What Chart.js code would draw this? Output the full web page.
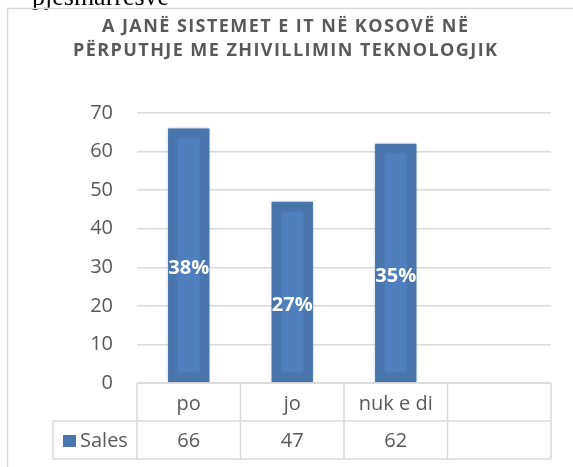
<!DOCTYPE html>
<html>
<head>
<meta charset="utf-8">
<title>A janë sistemet e IT në Kosovë</title>
<style>
  html, body { margin: 0; padding: 0; background: #fff; }
  #wrap { position: relative; width: 573px; height: 467px; overflow: hidden; }
</style>
<script src="https://cdn.jsdelivr.net/npm/chart.js"></script>
</head>
<body>
<div id="wrap">
  <canvas id="myChart" width="573" height="467"></canvas>
</div>
<script>
// chart data
var categories = ['po', 'jo', 'nuk e di', ''];
var sales = [66, 47, 62, null];
var seriesName = 'Sales';
var titleLines = ['A JANË SISTEMET E IT NË KOSOVË NË', 'PËRPUTHJE ME ZHIVILLIMIN TEKNOLOGJIK'];
var pageText = 'pjesmarresve';

var total = sales.reduce(function (a, b) { return a + (b || 0); }, 0);
var percentLabels = sales.map(function (v) {
  return v == null ? '' : Math.round(v / total * 100) + '%';
});

var grey = '#595959';
var lineGrey = '#d9d9d9';
var barOuter = '#4a75ac';
var barInner = '#4f80bd';
var FONT = '"Open Sans", "Noto Sans", sans-serif';

// page frame, bit of page text and the title
var framePlugin = {
  id: 'frame',
  beforeDraw: function (chart) {
    var ctx = chart.ctx;
    ctx.save();
    ctx.fillStyle = '#000';
    ctx.font = '26px "Liberation Serif", serif';
    ctx.textBaseline = 'alphabetic';
    ctx.fillText(pageText, 32, 5);

    ctx.strokeStyle = lineGrey;
    ctx.lineWidth = 1.5;
    ctx.beginPath();
    ctx.moveTo(7.5, 600);
    ctx.lineTo(7.5, 8.5);
    ctx.lineTo(700, 8.5);
    ctx.stroke();

    ctx.fillStyle = grey;
    ctx.font = 'bold 18px ' + FONT;
    ctx.textAlign = 'left';
    var targetW = 366;
    var w0 = ctx.measureText(titleLines[0]).width;
    var sp = Math.max(0, (targetW - w0) / (titleLines[0].length - 1));
    ctx.letterSpacing = sp + 'px';
    var cx = 285;
    var baselines = [32, 56];
    titleLines.forEach(function (t, i) {
      var w = ctx.measureText(t).width - sp;
      ctx.fillText(t, cx - w / 2, baselines[i]);
    });
    ctx.restore();
  },
  // soft halo round the bars
  beforeDatasetsDraw: function (chart) {
    var ctx = chart.ctx;
    ctx.save();
    ctx.shadowColor = 'rgba(110,150,205,0.7)';
    ctx.shadowBlur = 3;
  },
  afterDatasetsDraw: function (chart) {
    var ctx = chart.ctx;
    ctx.restore();
    // lighter inner part of each bar (bevel look)
    var meta = chart.getDatasetMeta(0);
    ctx.save();
    ctx.fillStyle = barInner;
    ctx.shadowColor = barInner;
    ctx.shadowBlur = 5;
    meta.data.forEach(function (bar, i) {
      if (sales[i] == null) return;
      var p = bar.getProps(['x', 'y', 'base', 'width'], true);
      var inset = 10;
      ctx.fillRect(p.x - p.width / 2 + inset, p.y + inset, p.width - 2 * inset, p.base - p.y - 2 * inset);
    });
    ctx.restore();
  }
};

// data table under the plot + value labels on bars
var tablePlugin = {
  id: 'dataTable',
  afterDraw: function (chart) {
    var ctx = chart.ctx;
    var area = chart.chartArea;
    var xs = chart.scales.x;
    var n = categories.length;
    var colW = (area.right - area.left) / n;
    var top = area.bottom;
    var rowH = 38;
    var legendLeft = 53;

    ctx.save();
    ctx.strokeStyle = lineGrey;
    ctx.lineWidth = 1.5;
    ctx.beginPath();
    // horizontal lines
    ctx.moveTo(area.left, top); ctx.lineTo(area.right, top);
    ctx.moveTo(legendLeft, top + rowH); ctx.lineTo(area.right, top + rowH);
    ctx.moveTo(legendLeft, top + 2 * rowH); ctx.lineTo(area.right, top + 2 * rowH);
    // vertical lines
    for (var i = 0; i <= n; i++) {
      var x = area.left + i * colW;
      ctx.moveTo(x, top); ctx.lineTo(x, top + 2 * rowH);
    }
    ctx.moveTo(legendLeft, top + rowH); ctx.lineTo(legendLeft, top + 2 * rowH);
    ctx.stroke();

    ctx.fillStyle = grey;
    ctx.font = '20px ' + FONT;
    ctx.textAlign = 'center';
    ctx.textBaseline = 'middle';
    categories.forEach(function (c, i) {
      var x = xs.getPixelForValue(i);
      ctx.fillText(c, x, top + rowH / 2 + 2);
      if (sales[i] != null) ctx.fillText(String(sales[i]), x, top + rowH * 1.5 + 1);
    });

    // legend key
    ctx.fillStyle = '#4a76b0';
    ctx.fillRect(63, top + 52, 13, 12);
    ctx.fillStyle = grey;
    ctx.textAlign = 'left';
    ctx.fillText(seriesName, 80, top + rowH * 1.5 + 1);

    // percent labels
    var meta = chart.getDatasetMeta(0);
    ctx.fillStyle = '#fff';
    ctx.font = 'bold 20px ' + FONT;
    ctx.textAlign = 'center';
    meta.data.forEach(function (bar, i) {
      if (sales[i] == null) return;
      var p = bar.getProps(['x', 'y', 'base'], true);
      ctx.fillText(percentLabels[i], p.x, (p.y + p.base) / 2 + 13);
    });
    ctx.restore();
  }
};

var ctx = document.getElementById('myChart').getContext('2d');
var chart = new Chart(ctx, {
  type: 'bar',
  data: {
    labels: categories,
    datasets: [{
      label: seriesName,
      data: sales,
      backgroundColor: barOuter,
      borderWidth: 0,
      barPercentage: 0.4,
      categoryPercentage: 1
    }]
  },
  options: {
    responsive: false,
    animation: false,
    devicePixelRatio: 1,
    layout: { padding: { top: 113, right: 22, bottom: 84, left: 0 } },
    plugins: {
      legend: { display: false },
      title: { display: false },
      tooltip: { enabled: false }
    },
    scales: {
      x: { display: false },
      y: {
        min: 0,
        max: 70,
        ticks: { stepSize: 10, color: grey, padding: 24, font: { family: FONT, size: 20 } },
        grid: { color: lineGrey, lineWidth: 1.5, drawTicks: false },
        border: { display: false },
        afterFit: function (scale) { scale.width = 137; }
      }
    }
  },
  plugins: [framePlugin, tablePlugin]
});
</script>
</body>
</html>
